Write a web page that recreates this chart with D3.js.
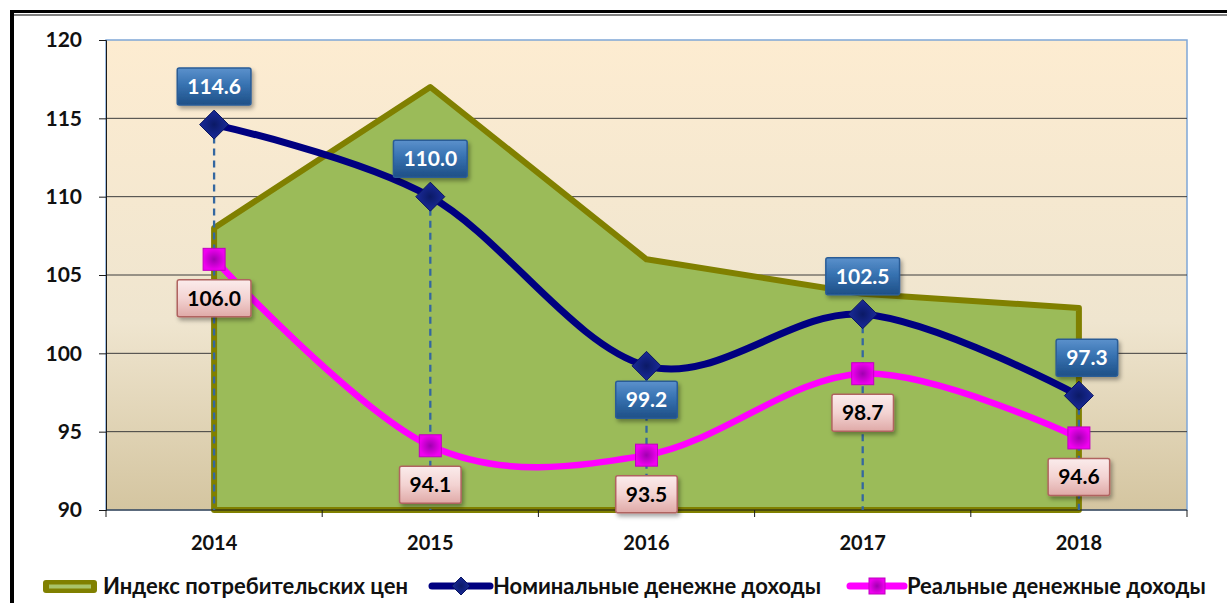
<!DOCTYPE html>
<html lang="ru">
<head>
<meta charset="utf-8">
<title>Индексы доходов</title>
<style>
  html, body { margin: 0; padding: 0; background: #fff; }
  svg { display: block; font-family: Lato, "Noto Sans", "DejaVu Sans", sans-serif; }
</style>
<script src="https://cdn.jsdelivr.net/npm/d3@7"></script>
</head>
<body>
<script>
// data
var years = ["2014", "2015", "2016", "2017", "2018"];
var cpi = [108.0, 117.0, 106.0, 103.8, 102.9];
var nominal = [114.6, 110.0, 99.2, 102.5, 97.3];
var real = [106.0, 94.1, 93.5, 98.7, 94.6];
var yTicks = [90, 95, 100, 105, 110, 115, 120];
var seriesNames = ["Индекс потребительских цен", "Номинальные денежне доходы", "Реальные денежные доходы"];
// where the data label sits: -1 above the point, 1 below
var nominalLabelSide = [-1, -1, 1, -1, -1];
var realLabelSide = [1, 1, 1, 1, 1];

var W = 1227, H = 603;
var pLeft = 106, pRight = 1187, pTop = 40, pBottom = 510;

var svg = d3.select("body").append("svg")
  .attr("width", W).attr("height", H);

var defs = svg.append("defs");

var bg = defs.append("linearGradient").attr("id", "bg")
  .attr("x1", 0).attr("y1", 0).attr("x2", 0).attr("y2", 1);
bg.append("stop").attr("offset", "0%").attr("stop-color", "#fdecd1");
bg.append("stop").attr("offset", "60%").attr("stop-color", "#efe5cf");
bg.append("stop").attr("offset", "100%").attr("stop-color", "#d4c5a0");

var blueBox = defs.append("linearGradient").attr("id", "blueBox")
  .attr("x1", 0).attr("y1", 0).attr("x2", 0).attr("y2", 1);
blueBox.append("stop").attr("offset", "0%").attr("stop-color", "#5b91cc");
blueBox.append("stop").attr("offset", "45%").attr("stop-color", "#3772b1");
blueBox.append("stop").attr("offset", "100%").attr("stop-color", "#1e4f86");

var pinkBox = defs.append("linearGradient").attr("id", "pinkBox")
  .attr("x1", 0).attr("y1", 0).attr("x2", 0).attr("y2", 1);
pinkBox.append("stop").attr("offset", "0%").attr("stop-color", "#fbecec");
pinkBox.append("stop").attr("offset", "50%").attr("stop-color", "#f3d3d2");
pinkBox.append("stop").attr("offset", "100%").attr("stop-color", "#dfa9a7");

var diamondGrad = defs.append("radialGradient").attr("id", "diamondGrad");
diamondGrad.append("stop").attr("offset", "0%").attr("stop-color", "#0b1a66");
diamondGrad.append("stop").attr("offset", "100%").attr("stop-color", "#1a2a9a");

var squareGrad = defs.append("radialGradient").attr("id", "squareGrad");
squareGrad.append("stop").attr("offset", "0%").attr("stop-color", "#a000b0");
squareGrad.append("stop").attr("offset", "100%").attr("stop-color", "#f000f0");

var shadow = defs.append("filter").attr("id", "shadow")
  .attr("x", "-20%").attr("y", "-20%").attr("width", "150%").attr("height", "160%");
shadow.append("feDropShadow").attr("dx", 2).attr("dy", 3).attr("stdDeviation", 2)
  .attr("flood-color", "#000").attr("flood-opacity", 0.35);

// page border
svg.append("line").attr("x1", 10).attr("x2", W).attr("y1", 11.5).attr("y2", 11.5)
  .attr("stroke", "#000").attr("stroke-width", 3);
svg.append("line").attr("x1", 10).attr("x2", W).attr("y1", 15).attr("y2", 15)
  .attr("stroke", "#000").attr("stroke-width", 1.2);
svg.append("line").attr("x1", 12).attr("x2", 12).attr("y1", 10).attr("y2", H)
  .attr("stroke", "#000").attr("stroke-width", 4);

var x = d3.scaleBand().domain(years).range([pLeft, pRight]);
var y = d3.scaleLinear().domain([90, 120]).range([pBottom, pTop]);
var cx = function (d) { return x(d) + x.bandwidth() / 2; };

// plot background
svg.append("rect").attr("x", pLeft).attr("y", pTop)
  .attr("width", pRight - pLeft).attr("height", pBottom - pTop)
  .attr("fill", "url(#bg)").attr("stroke", "#7fa6d6").attr("stroke-width", 1.5);

// gridlines
svg.append("g").selectAll("line").data(yTicks.slice(1, -1)).enter().append("line")
  .attr("x1", pLeft).attr("x2", pRight)
  .attr("y1", function (d) { return y(d); }).attr("y2", function (d) { return y(d); })
  .attr("stroke", "#3d3d3d").attr("stroke-width", 1);

// CPI area
var area = d3.area()
  .x(function (d, i) { return cx(years[i]); })
  .y0(y(90)).y1(function (d) { return y(d); });
svg.append("path").datum(cpi).attr("d", area)
  .attr("fill", "#9bbb59").attr("stroke", "#808000").attr("stroke-width", 6)
  .attr("stroke-linejoin", "round");

// axes
var yAxis = svg.append("g").attr("transform", "translate(" + pLeft + ",0)")
  .call(d3.axisLeft(y).tickValues(yTicks).tickSize(7).tickPadding(17));
yAxis.select(".domain").attr("stroke", "#1a1a1a");
yAxis.selectAll(".tick line").attr("stroke", "#1a1a1a");
yAxis.selectAll("text").attr("font-size", 21).attr("font-weight", "bold")
  .attr("fill", "#111").attr("font-family", "Lato, 'Noto Sans', sans-serif");

var xAxis = svg.append("g").attr("transform", "translate(0," + pBottom + ")");
xAxis.append("line").attr("x1", pLeft).attr("x2", pRight).attr("y1", 0).attr("y2", 0)
  .attr("stroke", "#1a1a1a");
xAxis.selectAll(".tk").data(d3.range(years.length + 1)).enter().append("line")
  .attr("x1", function (i) { return pLeft + i * x.step(); })
  .attr("x2", function (i) { return pLeft + i * x.step(); })
  .attr("y1", 0).attr("y2", 7).attr("stroke", "#1a1a1a");
xAxis.selectAll("text").data(years).enter().append("text")
  .attr("x", cx).attr("y", 40).attr("text-anchor", "middle")
  .attr("font-size", 20).attr("font-weight", "bold").attr("fill", "#111")
  .text(function (d) { return d; });

// drop lines
svg.append("g").selectAll("line").data(years).enter().append("line")
  .attr("x1", cx).attr("x2", cx)
  .attr("y1", function (d, i) { return y(Math.max(nominal[i], real[i])); })
  .attr("y2", y(90))
  .attr("stroke", "#3467a0").attr("stroke-width", 2.3).attr("stroke-dasharray", "7,5");

// smooth lines
var line = d3.line()
  .x(function (d, i) { return cx(years[i]); })
  .y(function (d) { return y(d); })
  .curve(d3.curveCatmullRom.alpha(0));

svg.append("path").datum(real).attr("d", line)
  .attr("fill", "none").attr("stroke", "#ff00ff").attr("stroke-width", 6.5)
  .attr("stroke-linecap", "round");
svg.append("path").datum(nominal).attr("d", line)
  .attr("fill", "none").attr("stroke", "#000080").attr("stroke-width", 7)
  .attr("stroke-linecap", "round");

// markers
function diamond(g, px, py, r) {
  g.append("path")
    .attr("d", "M" + px + "," + (py - r) + "L" + (px + r) + "," + py + "L" + px + "," + (py + r) + "L" + (px - r) + "," + py + "Z")
    .attr("fill", "url(#diamondGrad)").attr("stroke", "#0a1660").attr("stroke-width", 1);
}
function square(g, px, py, r) {
  g.append("rect").attr("x", px - r).attr("y", py - r).attr("width", 2 * r).attr("height", 2 * r)
    .attr("fill", "url(#squareGrad)").attr("stroke", "#c000c0").attr("stroke-width", 1);
}
var markers = svg.append("g");
real.forEach(function (v, i) { square(markers, cx(years[i]), y(v), 11); });
nominal.forEach(function (v, i) { diamond(markers, cx(years[i]), y(v), 14.5); });

// data labels
function label(g, px, py, txt, fill, stroke, color) {
  var t = g.append("text").attr("x", px).attr("y", py + 7.5).attr("text-anchor", "middle")
    .attr("font-size", 21).attr("font-weight", "bold").attr("fill", color).text(txt);
  var w = t.node().getComputedTextLength() + 20, h = 37;
  g.insert("rect", "text").attr("x", px - w / 2).attr("y", py - h / 2)
    .attr("width", w).attr("height", h).attr("rx", 2)
    .attr("fill", fill).attr("stroke", stroke).attr("stroke-width", 1.5)
    .attr("filter", "url(#shadow)");
}
var labels = svg.append("g");
nominal.forEach(function (v, i) {
  var g = labels.append("g");
  var dx = i === years.length - 1 ? 8 : 0;
  label(g, cx(years[i]) + dx, y(v) + (nominalLabelSide[i] < 0 ? -38 : 34), v.toFixed(1),
    "url(#blueBox)", "#2a5c96", "#fff");
});
real.forEach(function (v, i) {
  var g = labels.append("g");
  label(g, cx(years[i]), y(v) + (realLabelSide[i] < 0 ? -38 : 39), v.toFixed(1),
    "url(#pinkBox)", "#b06460", "#000");
});

// legend
var lg = svg.append("g").attr("transform", "translate(0,586)");
lg.append("rect").attr("x", 43).attr("y", -6).attr("width", 54).attr("height", 13).attr("rx", 3)
  .attr("fill", "#808000");
lg.append("line").attr("x1", 49).attr("x2", 91).attr("y1", 0.5).attr("y2", 0.5)
  .attr("stroke", "#a9c46a").attr("stroke-width", 4);
lg.append("line").attr("x1", 432).attr("x2", 490).attr("y1", 0).attr("y2", 0)
  .attr("stroke", "#000080").attr("stroke-width", 7).attr("stroke-linecap", "round");
diamond(lg, 461, 0, 9);
lg.append("line").attr("x1", 850).attr("x2", 904).attr("y1", 0).attr("y2", 0)
  .attr("stroke", "#ff00ff").attr("stroke-width", 7).attr("stroke-linecap", "round");
square(lg, 877, 0, 8);
var legX = [103, 493, 907];
lg.selectAll("text.leg").data(seriesNames).enter().append("text")
  .attr("class", "leg")
  .attr("x", function (d, i) { return legX[i]; }).attr("y", 8)
  .attr("font-size", 22).attr("font-weight", "bold").attr("fill", "#111")
  .text(function (d) { return d; });
</script>
</body>
</html>
